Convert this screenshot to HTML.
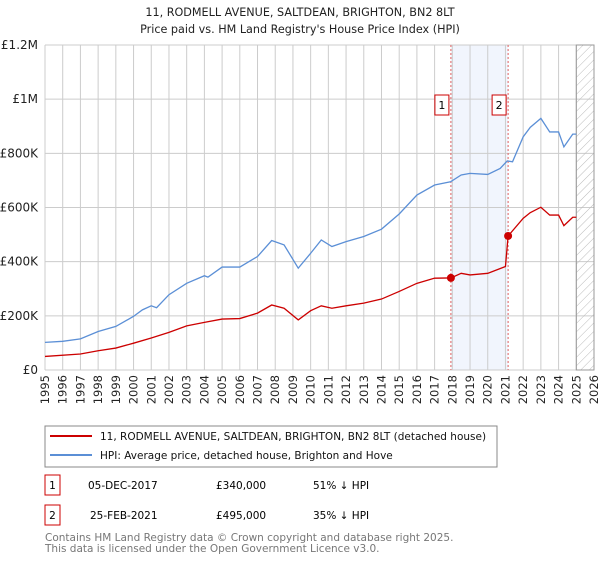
<!DOCTYPE html>
<html><head><meta charset="utf-8"><style>
body{margin:0;background:#fff;font-family:"Liberation Sans","DejaVu Sans",sans-serif;}
svg text{font-family:"DejaVu Sans","Liberation Sans",sans-serif;}
</style></head><body>
<svg id="c" width="600" height="560" xmlns="http://www.w3.org/2000/svg">
<text x="300" y="16" text-anchor="middle" font-size="11.2" fill="#222">11, RODMELL AVENUE, SALTDEAN, BRIGHTON, BN2 8LT</text>
<text x="300" y="33" text-anchor="middle" font-size="11.2" fill="#222">Price paid vs. HM Land Registry's House Price Index (HPI)</text>
<g id="grid"></g><g id="marks"></g>
<rect x="45" y="426" width="452" height="41" fill="#fff" stroke="#888"/>
<line x1="50" y1="436" x2="92" y2="436" stroke="#cc0000" stroke-width="2"/>
<text x="100" y="440" font-size="10.5" fill="#111">11, RODMELL AVENUE, SALTDEAN, BRIGHTON, BN2 8LT (detached house)</text>
<line x1="50" y1="455" x2="92" y2="455" stroke="#5b8fd6" stroke-width="2"/>
<text x="100" y="459" font-size="10.5" fill="#111">HPI: Average price, detached house, Brighton and Hove</text>
<rect x="45" y="475" width="15" height="20" fill="#fff" stroke="#cc0000"/>
<text x="52.5" y="489" text-anchor="middle" font-size="10.5">1</text>
<text x="88" y="489" font-size="10.5">05-DEC-2017</text>
<text x="216" y="489" font-size="10.5">£340,000</text>
<text x="313" y="489" font-size="10.5">51% ↓ HPI</text>
<rect x="45" y="505" width="15" height="20" fill="#fff" stroke="#cc0000"/>
<text x="52.5" y="519" text-anchor="middle" font-size="10.5">2</text>
<text x="90" y="519" font-size="10.5">25-FEB-2021</text>
<text x="216" y="519" font-size="10.5">£495,000</text>
<text x="313" y="519" font-size="10.5">35% ↓ HPI</text>
<text x="45" y="541" font-size="10.5" fill="#777">Contains HM Land Registry data © Crown copyright and database right 2025.</text>
<text x="45" y="552" font-size="10.5" fill="#777">This data is licensed under the Open Government Licence v3.0.</text>
</svg>
<script>
const hpiYears=[1995,1996,1997,1998,1999,2000,2000.5,2001,2001.3,2002,2003,2004,2004.2,2005,2006,2007,2007.8,2008.5,2009.3,2010,2010.6,2011.2,2012,2013,2014,2015,2016,2017,2017.9,2018.5,2019,2020,2020.7,2021.1,2021.4,2022,2022.4,2023,2023.5,2024,2024.3,2024.8,2025];
const hpiValues=[102,106,115,142,161,198,222,237,230,278,320,348,343,380,380,419,478,462,376,431,480,456,474,493,520,576,646,683,695,720,726,722,744,772,769,861,896,929,879,879,824,871,871];
const priceYears=[1995,1997,1998,1999,2000,2001,2002,2003,2004,2005,2006,2007,2007.8,2008.5,2009.3,2010,2010.6,2011.2,2012,2013,2014,2015,2016,2017,2017.92,2018.5,2019,2020,2021.0,2021.15,2022,2022.4,2023,2023.5,2024,2024.3,2024.8,2025];
const priceValues=[50,59,71,81,99,118,139,163,176,188,190,210,240,228,185,219,237,228,237,247,262,290,320,339,340,357,351,357,382,495,560,581,601,572,572,533,564,564];
const saleYears=[2017.92,2021.15];
const saleValues=[340,495];
const saleLabels=["1","2"];
const yTicks=[0,200,400,600,800,1000,1200];
const yTickLabels=["£0","£200K","£400K","£600K","£800K","£1M","£1.2M"];
const xTicks=[];for(let y=1995;y<=2026;y++)xTicks.push(y);
const X=y=>45+(y-1995)*(549/31);
const Y=v=>370-v*(325/1200);
const NS="http://www.w3.org/2000/svg";
function mk(p,t,a){const e=document.createElementNS(NS,t);for(const k in a)e.setAttribute(k,a[k]);p.appendChild(e);return e;}
const g=document.getElementById('grid'),m=document.getElementById('marks');
let r=mk(g,'rect',{x:X(saleYears[0]),y:45,width:X(saleYears[1])-X(saleYears[0]),height:325,fill:'#eef3fc',opacity:0.8});


xTicks.forEach(y=>{const l=mk(g,'line',{x1:X(y),x2:X(y),y1:45,y2:370,stroke:'#ccc'});


const t=mk(g,'text',{x:0,y:0,transform:`translate(${X(y)+4},375) rotate(-90)`,'text-anchor':'end','font-size':11.5,fill:'#222'});t.textContent=y;

});
yTicks.forEach((v,i)=>{const l=mk(g,'line',{x1:45,x2:594,y1:Y(v),y2:Y(v),stroke:'#ccc'});


const t=mk(g,'text',{x:38,y:Y(v)+4,'text-anchor':'end','font-size':12,fill:'#222'});t.textContent=yTickLabels[i];

});
const defs=mk(g,'defs',{});const pat=mk(defs,'pattern',{id:'h',width:6,height:6,patternUnits:'userSpaceOnUse',patternTransform:'rotate(45)'});
mk(pat,'line',{x1:0,y1:0,x2:0,y2:6,stroke:'#bbb','stroke-width':1});
const hr=mk(g,'rect',{x:X(2025),y:45,width:594-X(2025),height:325,fill:'url(#h)',stroke:'#999'});


saleYears.forEach((y,i)=>{const l=mk(m,'line',{x1:X(y),x2:X(y),y1:45,y2:370,stroke:'#e06060','stroke-dasharray':'2,2','stroke-width':1});

});
function path(xs,vs,c,n){const p=mk(m,'polyline',{points:xs.map((x,i)=>X(x)+','+Y(vs[i])).join(' '),fill:'none',stroke:c,'stroke-width':1.3});

}
path(hpiYears,hpiValues,'#5b8fd6','hpi-line');
path(priceYears,priceValues,'#cc0000','price-line');
saleYears.forEach((y,i)=>{const c=mk(m,'circle',{cx:X(y),cy:Y(saleValues[i]),r:4,fill:'#cc0000'});


const b=mk(m,'rect',{x:X(y)-16,y:95,width:14,height:20,fill:'#fff',stroke:'#cc0000'});


const t=mk(m,'text',{x:X(y)-9,y:109,'text-anchor':'middle','font-size':11});t.textContent=saleLabels[i];

});
</script>
</body></html>
